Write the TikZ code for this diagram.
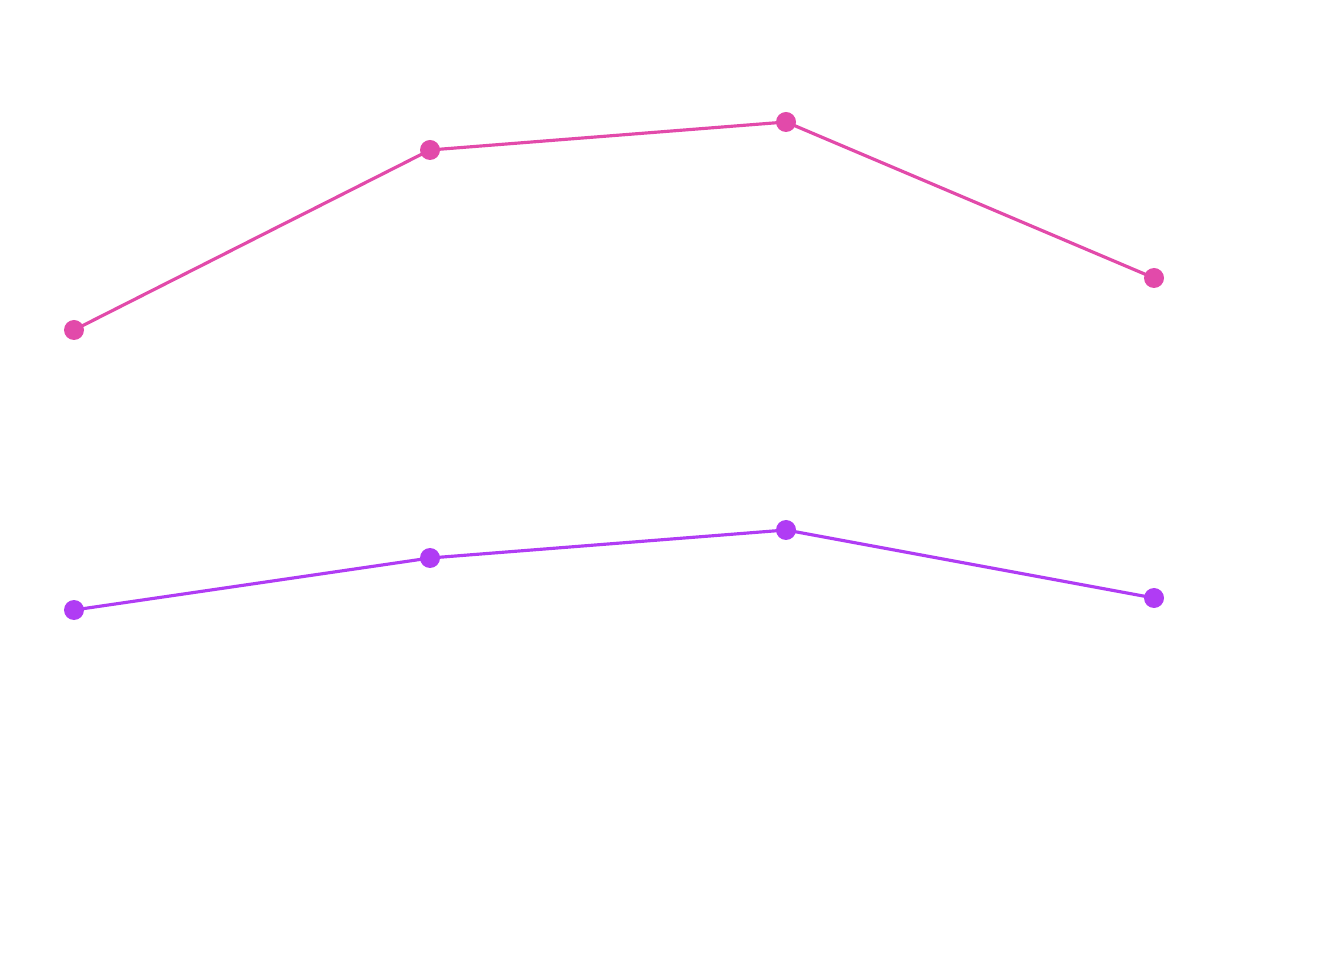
\documentclass[tikz,border=0pt]{standalone}
\usepackage{tikz}
\definecolor{pinkline}{HTML}{E24AAA}
\definecolor{violetline}{HTML}{B03CF4}
\tikzset{dot/.style={circle, fill=#1, inner sep=0pt, minimum size=0.2cm}}
\begin{document}
\begin{tikzpicture}[x=1cm,y=1cm]
      \useasboundingbox (0,0) rectangle (13.4,9.64);
      \node[dot=pinkline] (p1) at (0.74,6.34) {};
      \node[dot=pinkline] (p2) at (4.30,8.14) {};
      \node[dot=pinkline] (p3) at (7.86,8.42) {};
      \node[dot=pinkline] (p4) at (11.54,6.86) {};
      \node[dot=violetline] (v1) at (0.74,3.54) {};
      \node[dot=violetline] (v2) at (4.30,4.06) {};
      \node[dot=violetline] (v3) at (7.86,4.34) {};
      \node[dot=violetline] (v4) at (11.54,3.66) {};
      \draw [pinkline, line width=0.9pt] (p1.center) -- (p2.center) -- (p3.center) -- (p4.center);
      \draw [violetline, line width=0.9pt] (v1.center) -- (v2.center) -- (v3.center) -- (v4.center);
\end{tikzpicture}
\end{document}
